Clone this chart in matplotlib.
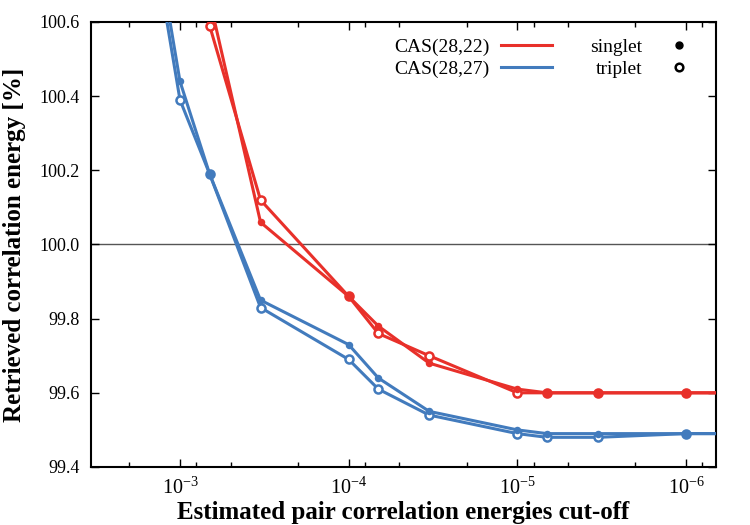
import numpy as np
import matplotlib
matplotlib.use('Agg')
import matplotlib.pyplot as plt
from matplotlib.lines import Line2D
from matplotlib.ticker import LogLocator, LogFormatterMathtext, MultipleLocator, NullFormatter

plt.rcParams['font.family'] = ['Liberation Serif', 'DejaVu Serif']
plt.rcParams['mathtext.fontset'] = 'stix'

# pair energy cut-off values (points outside the frame keep the lines running off it)
cutoff = [3.3e-3, 1e-3, 6.67e-4, 3.33e-4, 1e-4, 6.67e-5, 3.33e-5,
          1e-5, 6.67e-6, 3.33e-6, 1e-6, 1e-7]

# retrieved correlation energy [%]
cas22_singlet = [np.nan, 101.3, 100.66, 100.06, 99.86, 99.78, 99.68,
                 99.61, 99.60, 99.60, 99.60, 99.60]
cas22_triplet = [np.nan, 101.3, 100.59, 100.12, 99.86, 99.76, 99.70,
                 99.60, 99.60, 99.60, 99.60, 99.60]
cas27_singlet = [101.85, 100.44, 100.19, 99.85, 99.73, 99.64, 99.55,
                 99.50, 99.49, 99.49, 99.49, 99.49]
cas27_triplet = [101.80, 100.39, 100.19, 99.83, 99.69, 99.61, 99.54,
                 99.49, 99.48, 99.48, 99.49, 99.49]

red = '#e8302a'
blue = '#427bbd'

fig = plt.figure(figsize=(7.5, 5.25), dpi=100)
ax = fig.add_axes([0.1213, 0.1105, 0.8334, 0.8476])

ax.axhline(100.0, color='#555555', lw=1.0, zorder=1)

for c, trip, sing in [(blue, cas27_triplet, cas27_singlet),
                      (red, cas22_triplet, cas22_singlet)]:
    ax.plot(cutoff, trip, color=c, lw=2.2, marker='o', ms=5.8,
            mfc='white', mec=c, mew=1.8, zorder=3)
    ax.plot(cutoff, sing, color=c, lw=2.2, marker='o', ms=5.4,
            mfc=c, mec=c, mew=0, zorder=4)

ax.set_xscale('log')
ax.set_xlim(3.37e-3, 6.64e-7)
ax.set_ylim(99.4, 100.6)

ax.xaxis.set_major_locator(LogLocator(base=10, numticks=20))
ax.xaxis.set_major_formatter(LogFormatterMathtext())
ax.xaxis.set_minor_locator(LogLocator(base=10, subs=(2, 5, 8), numticks=20))
ax.xaxis.set_minor_formatter(NullFormatter())
ax.yaxis.set_major_locator(MultipleLocator(0.2))
ax.yaxis.set_major_formatter(plt.FormatStrFormatter('%.1f'))

ax.tick_params(which='both', direction='in', top=True, right=True,
               labelsize=13, width=1.0)
ax.tick_params(which='major', length=6, pad=8)
ax.tick_params(which='minor', length=3.5)
ax.tick_params(axis='x', which='major', labelsize=14.5, pad=8)
for s in ax.spines.values():
    s.set_linewidth(1.5)

ax.set_xlabel('Estimated pair correlation energies cut-off',
              fontsize=18, fontweight='bold', labelpad=1)
ax.set_ylabel('Retrieved correlation energy [%]',
              fontsize=18, fontweight='bold', labelpad=10)

# key: colours for the active space, symbols for the state
h_cas = [Line2D([], [], color=red, lw=2.2), Line2D([], [], color=blue, lw=2.2)]
leg1 = ax.legend(h_cas, ['CAS(28,22)', 'CAS(28,27)'], loc='upper right',
                 bbox_to_anchor=(0.7376, 0.963), frameon=False, fontsize=14,
                 markerfirst=False, handlelength=2.6, handletextpad=0.6,
                 borderpad=0, borderaxespad=0, labelspacing=0.2)
ax.add_artist(leg1)
h_state = [Line2D([], [], ls='none', marker='o', ms=5, color='black'),
           Line2D([], [], ls='none', marker='o', ms=5.5, mfc='white',
                  mec='black', mew=1.8)]
ax.legend(h_state, ['singlet', 'triplet'], loc='upper right',
          bbox_to_anchor=(0.9712, 0.963), frameon=False, fontsize=14,
          markerfirst=False, handlelength=2.0, handletextpad=0.85,
          borderpad=0, borderaxespad=0, labelspacing=0.2)

fig.savefig('out.png', dpi=100)
